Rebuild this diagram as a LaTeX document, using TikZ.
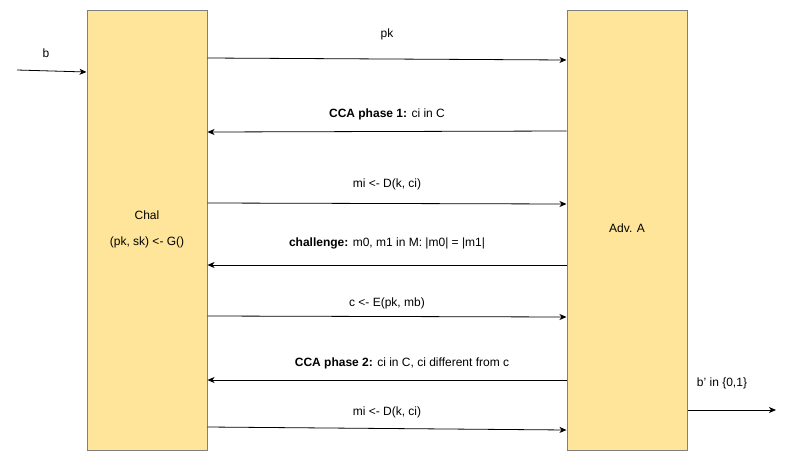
\documentclass[tikz,border=0pt]{standalone}
\usepackage{fontspec}
\setmainfont{Liberation Sans}
\usetikzlibrary{arrows.meta}

\definecolor{boxfill}{HTML}{FFE599}
\definecolor{boxline}{HTML}{7F7F7F}

\tikzstyle{party} = [rectangle, draw=boxline, line width=1pt, fill=boxfill, minimum width=120pt, minimum height=440pt, inner sep=0pt, font=\fontsize{12}{14}\selectfont]
\tikzstyle{msg} = [draw, line width=0.8pt, -{Stealth[length=7pt, width=6pt, inset=2pt]}]
\tikzstyle{lbl} = [font=\fontsize{12}{14}\selectfont, inner sep=1pt]

\begin{document}
\begin{tikzpicture}[x=1pt, y=-1pt]
    \useasboundingbox (0,0) rectangle (796,461);

    %  parties
    \node [party] (chal) at (147,230) {};
    \node [party] (adv) at (627,230) {};
    \node [lbl] (chalname) at (147,215) {Chal};
    \node [lbl] (chalkey) at (147,242) {(pk, sk) <- G()};
    \node [lbl] (advname) at (627,228) {Adv. A};

    %-------------------------------------------------------------
    \coordinate (bin) at (17,70);
    \coordinate (bout) at (776,410);
    \draw[msg] (bin) -- (chal.west |- 0,72);
    \node [lbl] (b) at (46,53) {b};
    \draw[msg] (adv.east |- 0,410) -- (bout);
    \node [lbl] (bprime) at (722,383) {b' in \{0,1\}};

    %-------------------------------------------------------------
    \draw[msg] (chal.east |- 0,58) -- (adv.west |- 0,60);
    \node [lbl] (pk) at (387,34) {pk};

    \draw[msg] (adv.west |- 0,131) -- (chal.east |- 0,132);
    \node [lbl] (phase1) at (387,114) {\textbf{CCA phase 1:} ci in C};

    \draw[msg] (chal.east |- 0,203) -- (adv.west |- 0,204);
    \node [lbl] (dec1) at (387,184) {mi <- D(k, ci)};

    %-------------------------------------------------------------
    \draw[msg] (adv.west |- 0,265) -- (chal.east |- 0,265);
    \node [lbl] (chall) at (387,243) {\textbf{challenge:} m0, m1 in M: |m0| = |m1|};

    \draw[msg] (chal.east |- 0,316) -- (adv.west |- 0,317);
    \node [lbl] (enc) at (387,303) {c <- E(pk, mb)};

    %-------------------------------------------------------------
    \draw[msg] (adv.west |- 0,380) -- (chal.east |- 0,380);
    \node [lbl] (phase2) at (402,363) {\textbf{CCA phase 2:} ci in C, ci different from c};

    \draw[msg] (chal.east |- 0,427) -- (adv.west |- 0,430);
    \node [lbl] (dec2) at (387,412) {mi <- D(k, ci)};

\end{tikzpicture}
\end{document}
